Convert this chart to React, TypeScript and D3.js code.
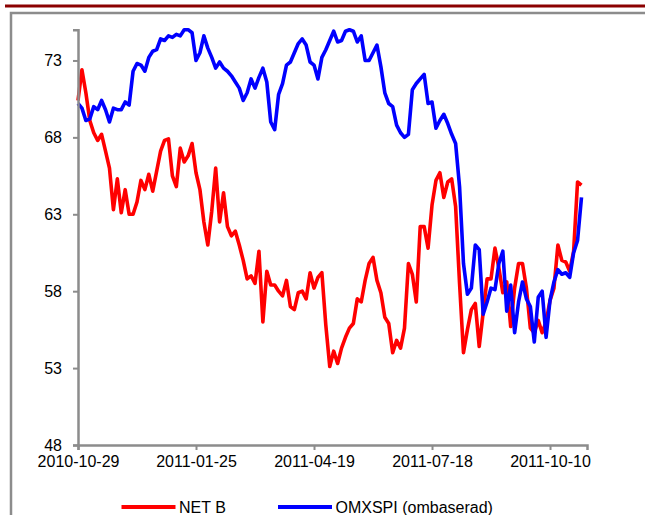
import React, { useEffect, useRef } from 'react';
import * as d3 from 'd3';

// NET B share price, sampled every second trading day from 2010-10-29
const netB = [
  70.4, 72.4, 70.9, 69.1, 68.3, 67.8, 68.2, 67.1, 66.0, 63.3,
  65.3, 63.1, 64.6, 63.0, 63.0, 63.8, 65.2, 64.6, 65.6, 64.5,
  65.8, 67.1, 67.8, 67.9, 65.5, 64.8, 67.3, 66.4, 66.8, 67.6,
  65.7, 64.6, 62.5, 61.0, 63.2, 66.0, 62.5, 64.4, 62.2, 61.6,
  61.9, 61.0, 60.0, 58.8, 59.0, 58.5, 60.6, 56.0, 59.3, 58.4,
  58.4, 58.0, 57.7, 58.7, 57.0, 56.8, 57.9, 58.0, 57.5, 59.2,
  58.2, 58.9, 59.2, 55.8, 53.1, 54.1, 53.3, 54.3, 55.0, 55.6,
  55.9, 57.5, 57.3, 58.7, 59.8, 60.2, 58.7, 57.9, 56.3, 55.9,
  54.0, 54.8, 54.3, 55.6, 59.8, 59.1, 57.3, 62.2, 62.2, 60.8,
  63.6, 65.2, 65.7, 64.1, 65.1, 65.3, 63.5, 58.5, 54.0, 55.5,
  56.8, 57.2, 54.4, 56.6, 58.8, 58.8, 60.8, 59.5, 57.9, 58.6,
  55.7, 58.2, 59.8, 59.8, 58.2, 55.6, 55.3, 56.1, 55.3, 56.0,
  57.4, 58.2, 61.0, 60.0, 59.9, 59.3, 60.6, 65.1, 64.9,
];

// OMXSPI rebased to NET B
const omxspi = [
  70.2, 69.9, 69.1, 69.2, 70.0, 69.8, 70.4, 69.8, 69.0, 69.9,
  69.8, 69.8, 70.3, 70.1, 72.3, 72.8, 72.7, 72.3, 73.2, 73.6,
  73.7, 74.4, 74.3, 74.6, 74.5, 74.7, 74.6, 75.0, 75.0, 74.8,
  73.0, 73.5, 74.6, 73.8, 73.2, 72.5, 72.9, 72.5, 72.3, 72.0,
  71.6, 71.2, 70.4, 70.9, 71.8, 71.2, 71.9, 72.5, 71.6, 69.0,
  68.5, 70.8, 71.5, 72.7, 72.9, 73.5, 74.1, 74.4, 74.0, 72.9,
  72.7, 71.8, 73.2, 73.7, 74.3, 74.9, 74.2, 74.3, 74.9, 75.0,
  74.9, 74.2, 74.6, 73.0, 73.0, 73.5, 74.0, 72.6, 70.9, 70.2,
  70.0, 68.8, 68.3, 68.0, 68.2, 71.1, 71.5, 71.8, 72.1, 70.2,
  70.3, 68.6, 69.1, 69.5, 68.9, 68.2, 67.6, 64.8, 59.8, 57.8,
  58.2, 61.0, 60.7, 56.5, 57.3, 58.2, 58.1, 59.8, 60.6, 56.7,
  58.4, 55.3, 57.3, 58.6, 57.5, 57.0, 54.7, 57.6, 58.0, 55.0,
  57.4, 58.6, 59.4, 59.1, 59.2, 58.9, 60.5, 61.3, 64.1,
];

const tickLabels = ['2010-10-29', '2011-01-25', '2011-04-19', '2011-07-18', '2011-10-10'];
const tickEvery = 30; // samples between labelled ticks
const yTicks = [48, 53, 58, 63, 68, 73];

const seriesNames = ['NET B', 'OMXSPI (ombaserad)'];
const seriesColors = ['#ff0000', '#0000ff'];

const App: React.FC = () => {
  const svgRef = useRef<SVGSVGElement>(null);

  useEffect(() => {
    const svg = d3.select(svgRef.current);
    svg.selectAll('*').remove();

    const W = 645;
    const H = 515;
    const margin = { top: 29.7, left: 78, bottom: 445, right: 587 };
    const axisColor = '#8c8c8c';
    const font = '"Liberation Sans", Arial, sans-serif';

    svg.attr('width', W).attr('height', H).style('font-family', font);

    // page decoration: dark red rule + gray frame
    svg.append('line')
      .attr('x1', 5).attr('x2', W)
      .attr('y1', 6).attr('y2', 6)
      .attr('stroke', '#8b0000')
      .attr('stroke-width', 3);
    svg.append('rect')
      .attr('x', 11).attr('y', 13)
      .attr('width', W).attr('height', H)
      .attr('fill', 'none')
      .attr('stroke', axisColor)
      .attr('stroke-width', 2.5);

    const x = d3.scaleLinear()
      .domain([0, 129.4])
      .range([margin.left, margin.right]);

    const y = d3.scaleLinear()
      .domain([48, 75])
      .range([margin.bottom, margin.top]);

    const g = svg.append('g');

    // lines
    const line = d3.line<number>()
      .x((_, i) => x(i))
      .y(d => y(d));

    [netB, omxspi].forEach((data, i) => {
      g.append('path')
        .datum(data)
        .attr('fill', 'none')
        .attr('stroke', seriesColors[i])
        .attr('stroke-width', 3.6)
        .attr('stroke-linejoin', 'round')
        .attr('d', line);
    });

    // Y axis
    const yAxis = g.append('g')
      .attr('transform', `translate(${margin.left},0)`)
      .call(d3.axisLeft(y).tickValues(yTicks).tickSize(5).tickPadding(11).tickFormat(d3.format('d')));
    yAxis.select('.domain').attr('stroke', axisColor).attr('stroke-width', 2.5);
    yAxis.selectAll('.tick line').attr('stroke', axisColor).attr('stroke-width', 2);
    yAxis.selectAll('text')
      .style('font-size', '16px')
      .style('font-family', font)
      .attr('fill', '#000');

    // X axis
    const xAxis = g.append('g')
      .attr('transform', `translate(0,${margin.bottom})`)
      .call(d3.axisBottom(x)
        .tickValues(tickLabels.map((_, i) => i * tickEvery))
        .tickSize(5)
        .tickPadding(6)
        .tickFormat((_, i) => tickLabels[i]));
    xAxis.select('.domain').attr('stroke', axisColor).attr('stroke-width', 2.5);
    xAxis.selectAll('.tick line').attr('stroke', axisColor).attr('stroke-width', 2);
    xAxis.selectAll('text')
      .style('font-size', '16px')
      .style('font-family', font)
      .attr('fill', '#000');

    // legend
    const legendX = [121.5, 278];
    seriesNames.forEach((name, i) => {
      const item = svg.append('g').attr('transform', `translate(${legendX[i]},507)`);
      item.append('line')
        .attr('x1', 0).attr('x2', 54)
        .attr('stroke', seriesColors[i])
        .attr('stroke-width', 4);
      item.append('text')
        .attr('x', 57.5)
        .attr('y', 6)
        .style('font-size', '16px')
        .text(name);
    });
  }, []);

  return (
    <svg ref={svgRef} style={{ position: 'absolute', left: 0, top: 0, background: '#fff' }}></svg>
  );
};

export default App;
